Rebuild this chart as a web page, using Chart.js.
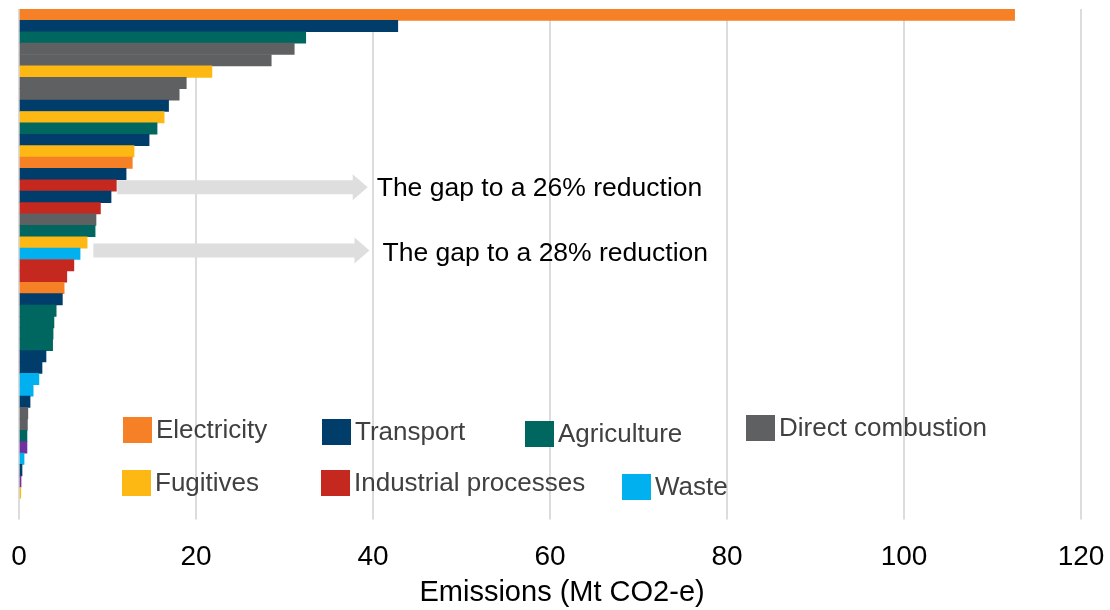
<!DOCTYPE html>
<html>
<head>
<meta charset="utf-8">
<script src="https://cdn.jsdelivr.net/npm/chart.js@4/dist/chart.umd.min.js"></script>
<style>
  body { margin: 0; background: #fff; }
  #wrap { width: 1110px; height: 610px; position: relative; }
</style>
</head>
<body>
<div id="wrap"><canvas id="emissions"></canvas></div>
<script>
// Secteurs et couleurs
const sectorNames = ['Electricity', 'Transport', 'Agriculture', 'Direct combustion', 'Fugitives', 'Industrial processes', 'Waste', 'Other'];
const sectorColors = ['#F58025', '#003D6B', '#006760', '#5F6062', '#FDB813', '#C4281E', '#00B0EF', '#7030A0'];

// Une barre par source d'émissions, de la plus grande à la plus petite
const barSectors = ['Electricity', 'Transport', 'Agriculture', 'Direct combustion', 'Direct combustion', 'Fugitives',
  'Direct combustion', 'Direct combustion', 'Transport', 'Fugitives', 'Agriculture', 'Transport', 'Fugitives',
  'Electricity', 'Transport', 'Industrial processes', 'Transport', 'Industrial processes', 'Direct combustion',
  'Agriculture', 'Fugitives', 'Waste', 'Industrial processes', 'Industrial processes', 'Electricity', 'Transport',
  'Agriculture', 'Agriculture', 'Agriculture', 'Agriculture', 'Transport', 'Transport', 'Waste', 'Waste',
  'Transport', 'Direct combustion', 'Direct combustion', 'Agriculture', 'Other', 'Waste', 'Transport', 'Other',
  'Fugitives'];
const barValues = [112.5, 42.8, 32.4, 31.1, 28.5, 21.8, 18.9, 18.1, 16.9, 16.4, 15.6, 14.7, 13.0,
  12.8, 12.1, 11.0, 10.4, 9.2, 8.7, 8.6, 7.7, 6.9, 6.2, 5.4, 5.1, 4.9,
  4.2, 3.95, 3.85, 3.8, 3.05, 2.6, 2.25, 1.6, 1.25, 1.0, 0.95, 0.9, 0.9, 0.57, 0.34, 0.23, 0.2];

// Axe X
const xTicks = [0, 20, 40, 60, 80, 100, 120];
const xTitle = '\u00A0\u00A0\u00A0Emissions (Mt CO2-e)';

// Flèches "gap" : valeur de départ, valeur d'arrivée, rang de barre
const gapLabels = ['The gap to a 26% reduction', 'The gap to a 28% reduction'];
const gapStart = [11.1, 8.4];
const gapEnd = [39.4, 39.6];
const gapRow = [15.15, 20.7];

// Légende (sans "Other")
const legendNames = ['Electricity', 'Transport', 'Agriculture', 'Direct combustion', 'Fugitives', 'Industrial processes', 'Waste'];

const FONT = '"Liberation Sans", Arial, sans-serif';
const colorOf = s => sectorColors[sectorNames.indexOf(s)];

const gapPlugin = {
  id: 'gapArrows',
  afterDatasetsDraw(chart) {
    const ctx = chart.ctx;
    const xs = chart.scales.x, ys = chart.scales.y;
    ctx.save();
    for (let i = 0; i < gapLabels.length; i++) {
      const x0 = xs.getPixelForValue(gapStart[i]);
      const x1 = xs.getPixelForValue(gapEnd[i]);
      const yc = ys.getPixelForValue(gapRow[i]);
      const head = 15, bodyH = 7, headH = 13;
      ctx.fillStyle = '#DEDEDE';
      ctx.beginPath();
      ctx.moveTo(x0, yc - bodyH);
      ctx.lineTo(x1 - head, yc - bodyH);
      ctx.lineTo(x1 - head, yc - headH);
      ctx.lineTo(x1, yc);
      ctx.lineTo(x1 - head, yc + headH);
      ctx.lineTo(x1 - head, yc + bodyH);
      ctx.lineTo(x0, yc + bodyH);
      ctx.closePath();
      ctx.fill();
      ctx.fillStyle = '#000';
      ctx.font = '26.5px ' + FONT;
      ctx.textBaseline = 'middle';
      ctx.textAlign = 'left';
      ctx.fillText(gapLabels[i], x1 + 9 + i * 4, yc + 1 + i * 2);
    }
    ctx.restore();
  }
};

// prolonge les lignes de grille sous la zone du graphique
const gridExtend = {
  id: 'gridExtend',
  beforeDatasetsDraw(chart) {
    const ctx = chart.ctx, xs = chart.scales.x, area = chart.chartArea;
    ctx.save();
    ctx.strokeStyle = '#DCDCDC';
    ctx.lineWidth = 2;
    xTicks.forEach(v => {
      const px = Math.round(xs.getPixelForValue(v));
      ctx.beginPath();
      ctx.moveTo(px, area.bottom);
      ctx.lineTo(px, area.bottom + 21);
      ctx.stroke();
    });
    ctx.restore();
  }
};

const legendPlugin = {
  id: 'floatLegend',
  afterDraw(chart) {
    const ctx = chart.ctx;
    // positions de la légende flottante (comme dans l'original)
    const pos = [[123, 417], [322, 419], [525, 421], [746, 415], [122, 470], [321, 470], [622, 474]];
    ctx.save();
    ctx.font = '26px ' + FONT;
    ctx.textBaseline = 'middle';
    for (let i = 0; i < legendNames.length; i++) {
      const p = pos[i];
      ctx.fillStyle = colorOf(legendNames[i]);
      ctx.fillRect(p[0], p[1], 29, 26);
      ctx.fillStyle = '#404040';
      ctx.fillText(legendNames[i], p[0] + 33, p[1] + 14);
    }
    ctx.restore();
  }
};

const data_emissions = {
  labels: barSectors.map((s, i) => s + ' ' + (i + 1)),
  datasets: [{
    data: barValues,
    backgroundColor: barSectors.map(colorOf),
    borderWidth: 0,
    categoryPercentage: 1.0,
    barPercentage: 1.0
  }]
};

const config_emissions = {
  type: 'bar',
  data: data_emissions,
  options: {
    indexAxis: 'y',
    responsive: true,
    maintainAspectRatio: false,
    animation: false,
    events: [],
    layout: { padding: { top: 9, left: 19, right: 29, bottom: 0 } },
    plugins: {
      legend: { display: false },
      tooltip: { enabled: false }
    },
    scales: {
      x: {
        min: 0,
        max: 120,
        afterBuildTicks: axis => { axis.ticks = xTicks.map(v => ({ value: v })); },
        // les étiquettes débordent dans la marge, pas de décalage de la zone
        afterFit: axis => { axis.paddingLeft = 0; axis.paddingRight = 0; },
        grid: {
          color: '#DCDCDC',
          lineWidth: 2,
          drawTicks: false
        },
        border: { display: false },
        ticks: {
          padding: 42,
          color: '#000',
          font: { family: FONT, size: 28 }
        },
        title: {
          display: true,
          text: xTitle,
          color: '#000',
          font: { family: FONT, size: 29 },
          padding: { top: -41, bottom: 0 }
        }
      },
      y: {
        display: false
      }
    }
  },
  plugins: [gridExtend, gapPlugin, legendPlugin]
};

const emissions_Chart = new Chart(document.getElementById('emissions'), config_emissions);
</script>
</body>
</html>
